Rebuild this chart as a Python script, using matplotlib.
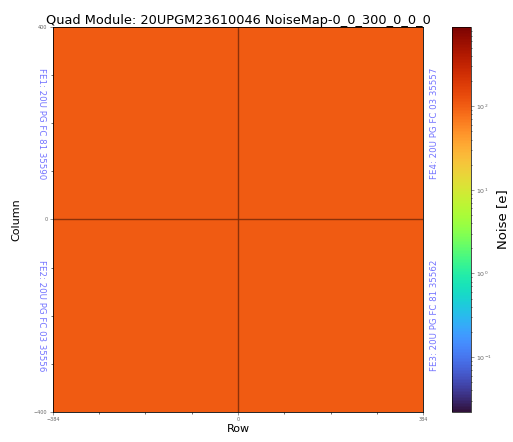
import numpy as np
import matplotlib
matplotlib.use("Agg")
import matplotlib.pyplot as plt
from matplotlib.colors import LogNorm

# chip layout: columns (row axis) and rows (column axis) edges
row_edges = [-384, 0, 384]
col_edges = [-400, 0, 400]
# mean noise [e] per front-end chip: [bottom-left, bottom-right], [top-left, top-right]
chip_noise = [[105, 105], [105, 105]]
chip_labels = ["FE1: 20U PG FC 81 35590", "FE2: 20U PG FC 03 35556",
               "FE3: 20U PG FC 81 35562", "FE4: 20U PG FC 03 35557"]
chip_label_y = [200, -200, -200, 200]
noise_min, noise_max = 0.022, 890

fig = plt.figure(figsize=(5.13, 4.42), dpi=100)
ax = fig.add_axes([0.103, 0.068, 0.722, 0.871])
cax = fig.add_axes([0.881, 0.068, 0.037, 0.871])

mesh = ax.pcolormesh(row_edges, col_edges, np.array(chip_noise), cmap="turbo",
                     norm=LogNorm(vmin=noise_min, vmax=noise_max))
ax.axvline(0, color="#7a2a08", lw=1.0, alpha=0.85)
ax.axhline(0, color="#7a2a08", lw=1.0, alpha=0.85)

ax.set_xlim(-384, 384)
ax.set_ylim(-400, 400)
ax.set_xticks([-384, 0, 384])
ax.set_yticks([-400, 0, 400])
ax.minorticks_on()
ax.tick_params(labelsize=3.5, length=2.5, width=0.5, colors="#666666", pad=1.5)
ax.tick_params(which="minor", length=1.5, width=0.4)
for s in ax.spines.values():
    s.set_linewidth(0.6)

ax.set_xlabel("Row", fontsize=8, labelpad=1)
ax.set_ylabel("Column", fontsize=8, labelpad=1)
ax.yaxis.set_label_coords(-0.085, 0.5)
ax.set_title("Quad Module: 20UPGM23610046 NoiseMap-0_0_300_0_0_0", fontsize=9.3, pad=1.5)

# front-end chip labels on the sides
for i, (lab, yv) in enumerate(zip(chip_labels, chip_label_y)):
    if i < 2:
        ax.text(-0.03, (yv + 400) / 800, lab, transform=ax.transAxes, rotation=270,
                ha="center", va="center", fontsize=6.2, color="#5050ff", alpha=0.8)
    else:
        ax.text(1.03, (yv + 400) / 800, lab, transform=ax.transAxes, rotation=90,
                ha="center", va="center", fontsize=6.2, color="#5050ff", alpha=0.8)

cb = fig.colorbar(mesh, cax=cax)
cb.set_label("Noise [e]", fontsize=9.5, labelpad=3)
cb.ax.tick_params(labelsize=4.5, length=2, width=0.5, colors="#666666", pad=1.5)
cb.ax.tick_params(which="minor", length=1, width=0.4)
cb.outline.set_linewidth(0.5)

fig.savefig("out.png", dpi=100)
